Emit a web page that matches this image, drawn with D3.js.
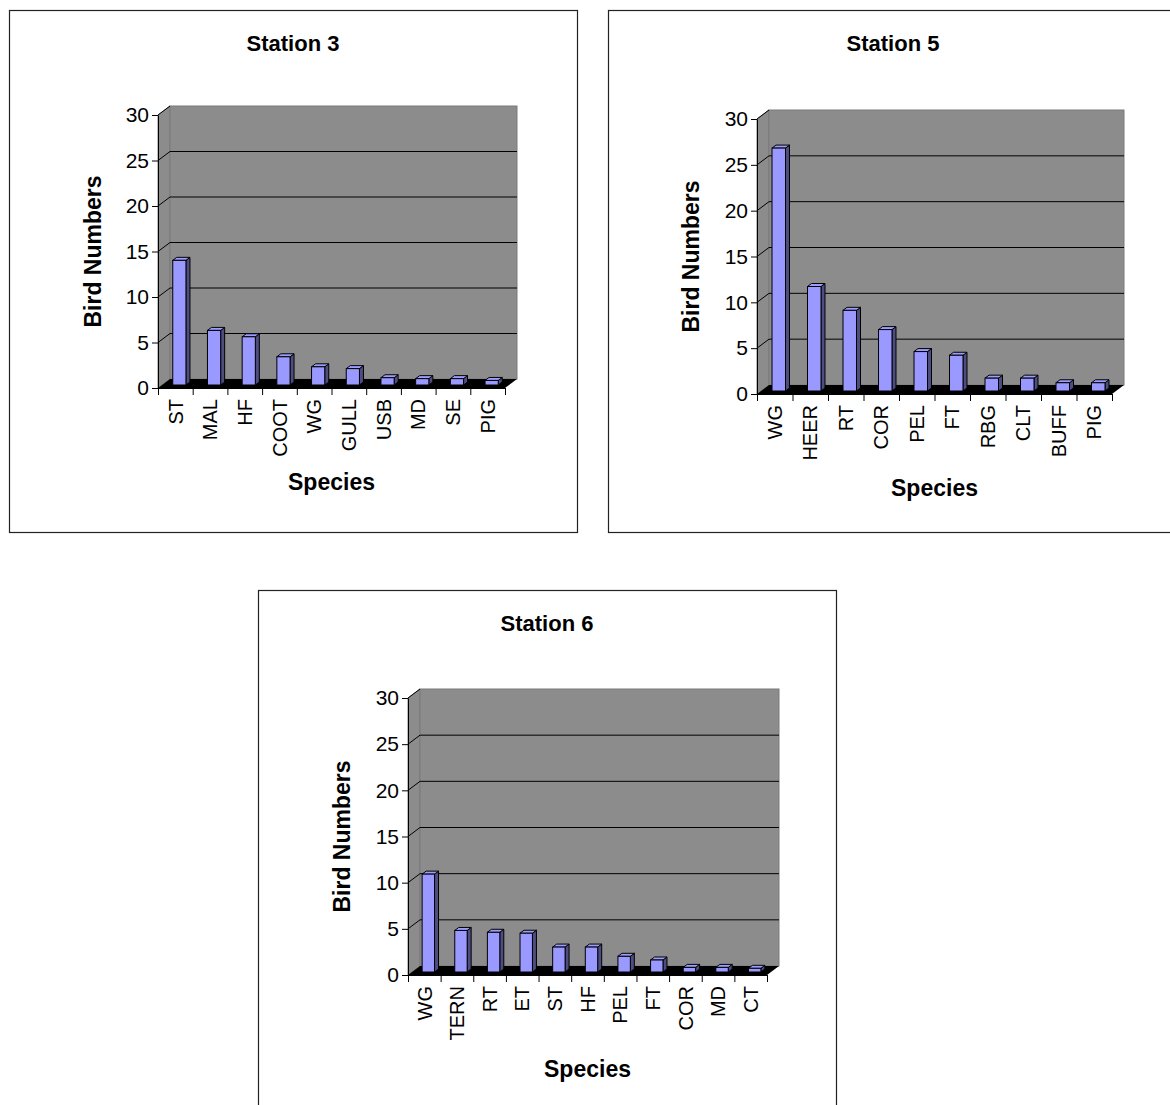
<!DOCTYPE html>
<html>
<head>
<meta charset="utf-8">
<script src="https://cdn.jsdelivr.net/npm/d3@7"></script>
<style>
body { margin: 0; background: #fff; }
svg { display: block; }
text { font-family: "Liberation Sans", Arial, sans-serif; fill: #000; }
</style>
</head>
<body>
<script>
var width = 1170,
    height = 1105;

// bird counts
var station3Species = ["ST", "MAL", "HF", "COOT", "WG", "GULL", "USB", "MD", "SE", "PIG"];
var station3Counts  = [13.7, 6.0, 5.3, 3.1, 2.0, 1.8, 0.8, 0.7, 0.7, 0.5];

var station5Species = ["WG", "HEER", "RT", "COR", "PEL", "FT", "RBG", "CLT", "BUFF", "PIG"];
var station5Counts  = [26.5, 11.4, 8.8, 6.7, 4.3, 3.9, 1.4, 1.4, 0.9, 0.9];

var station6Species = ["WG", "TERN", "RT", "ET", "ST", "HF", "PEL", "FT", "COR", "MD", "CT"];
var station6Counts  = [10.6, 4.5, 4.3, 4.2, 2.7, 2.7, 1.7, 1.3, 0.5, 0.5, 0.4];

var yTicks = [0, 5, 10, 15, 20, 25, 30];
var yLabel = "Bird Numbers",
    xLabel = "Species";

var svg = d3.select("body")
            .append("svg")
            .attr("width", width)
            .attr("height", height);

// 3d depth of the plot box
var depthX = 12,
    depthY = -9;

function drawStation(o) {
    var g = svg.append("g");

    g.append("rect")
     .attr("x", o.box[0] + 0.5)
     .attr("y", o.box[1] + 0.5)
     .attr("width", o.box[2])
     .attr("height", o.box[3])
     .attr("fill", "#fff")
     .attr("stroke", "#222")
     .attr("stroke-width", 1.2);

    var x = d3.scaleBand()
              .domain(o.species)
              .range([o.left, o.right]);
    var xEdge = d3.scaleLinear()
                  .domain([0, o.species.length])
                  .range([o.left, o.right]);
    var y = d3.scaleLinear()
              .domain([0, 30])
              .range([o.bottom, o.top]);

    // walls
    g.append("polygon")
     .attr("points", [[o.left, y(0)], [o.left, y(30)], [o.left + depthX, y(30) + depthY], [o.left + depthX, y(0) + depthY]].join(" "))
     .attr("fill", "#8c8c8c")
     .attr("stroke", "#7a7a7a");
    g.append("rect")
     .attr("x", o.left + depthX)
     .attr("y", y(30) + depthY)
     .attr("width", o.right - o.left)
     .attr("height", y(0) - y(30))
     .attr("fill", "#8c8c8c")
     .attr("stroke", "#7a7a7a");

    g.selectAll(".grid")
     .data(yTicks.filter(t => t > 0 && t < 30))
     .enter()
     .append("line")
        .attr("x1", o.left + depthX)
        .attr("x2", o.right + depthX)
        .attr("y1", d => y(d) + depthY)
        .attr("y2", d => y(d) + depthY)
        .attr("stroke", "#000");

    g.selectAll(".diag")
     .data(yTicks.filter(t => t > 0))
     .enter()
     .append("line")
        .attr("x1", o.left)
        .attr("y1", d => y(d))
        .attr("x2", o.left + depthX)
        .attr("y2", d => y(d) + depthY)
        .attr("stroke", "#000");

    // floor
    g.append("polygon")
     .attr("points", [[o.left, y(0)], [o.right, y(0)], [o.right + depthX, y(0) + depthY], [o.left + depthX, y(0) + depthY]].join(" "))
     .attr("fill", "#000");

    // bars sit in the middle third of the depth
    var bw = x.bandwidth() * 0.38,
        bx = depthX / 3,
        by = depthY / 3;
    var bars = g.selectAll(".bar")
                .data(o.counts)
                .enter()
                .append("g");
    bars.each(function(d, i) {
        var b = d3.select(this);
        var fx = x(o.species[i]) + x.bandwidth() / 2 - bw / 2 + bx,
            base = y(0) + by,
            top = y(d) + by;
        b.append("polygon")
         .attr("points", [[fx + bw, top], [fx + bw + bx, top + by], [fx + bw + bx, base + by], [fx + bw, base]].join(" "))
         .attr("fill", "#4d4d80")
         .attr("stroke", "#000")
         .attr("stroke-linejoin", "round");
        b.append("polygon")
         .attr("points", [[fx, top], [fx + bx, top + by], [fx + bw + bx, top + by], [fx + bw, top]].join(" "))
         .attr("fill", "#9d9dff")
         .attr("stroke", "#000")
         .attr("stroke-linejoin", "round");
        b.append("rect")
         .attr("x", fx)
         .attr("y", top)
         .attr("width", bw)
         .attr("height", base - top)
         .attr("fill", "#9999ff")
         .attr("stroke", "#000");
    });

    // axes
    var yAxis = g.append("g")
                 .attr("transform", "translate(" + o.left + ",0)")
                 .call(d3.axisLeft(y).tickValues(yTicks).tickSize(6).tickSizeOuter(0).tickPadding(3));
    yAxis.selectAll("text")
         .style("font-size", "21px")
         .style("font-family", "Liberation Sans, Arial, sans-serif");

    g.append("g")
     .attr("transform", "translate(0," + y(0) + ")")
     .call(d3.axisBottom(xEdge).tickValues(d3.range(o.species.length + 1)).tickSize(7).tickSizeOuter(0).tickFormat(""));
    g.selectAll(".domain, .tick line").attr("stroke", "#000");

    g.selectAll(".xlab")
     .data(o.species)
     .enter()
     .append("text")
        .attr("transform", d => "translate(" + (x(d) + x.bandwidth() / 2) + "," + (y(0) + 11) + ") rotate(-90)")
        .attr("text-anchor", "end")
        .attr("dy", "0.36em")
        .style("font-size", "20px")
        .text(d => d);

    // titles
    g.append("text")
     .attr("x", o.box[0] + o.box[2] / 2)
     .attr("y", o.box[1] + 41)
     .attr("text-anchor", "middle")
     .style("font-size", "22px")
     .style("font-weight", "bold")
     .text(o.title);

    g.append("text")
     .attr("transform", "translate(" + o.yTitleX + "," + ((o.top + o.bottom) / 2) + ") rotate(-90)")
     .attr("text-anchor", "middle")
     .attr("dy", "0.36em")
     .style("font-size", "23px")
     .style("font-weight", "bold")
     .text(yLabel);

    g.append("text")
     .attr("x", (o.left + o.right) / 2)
     .attr("y", o.bottom + 102)
     .attr("text-anchor", "middle")
     .style("font-size", "23px")
     .style("font-weight", "bold")
     .text(xLabel);
}

drawStation({title: "Station 3", species: station3Species, counts: station3Counts,
             box: [9, 10, 568, 522], left: 158, right: 505, top: 115, bottom: 388, yTitleX: 93});
drawStation({title: "Station 5", species: station5Species, counts: station5Counts,
             box: [608, 10, 570, 522], left: 757, right: 1112, top: 119, bottom: 394, yTitleX: 691});
drawStation({title: "Station 6", species: station6Species, counts: station6Counts,
             box: [258, 590, 578, 522], left: 408, right: 767, top: 698, bottom: 975, yTitleX: 342});
</script>
</body>
</html>
